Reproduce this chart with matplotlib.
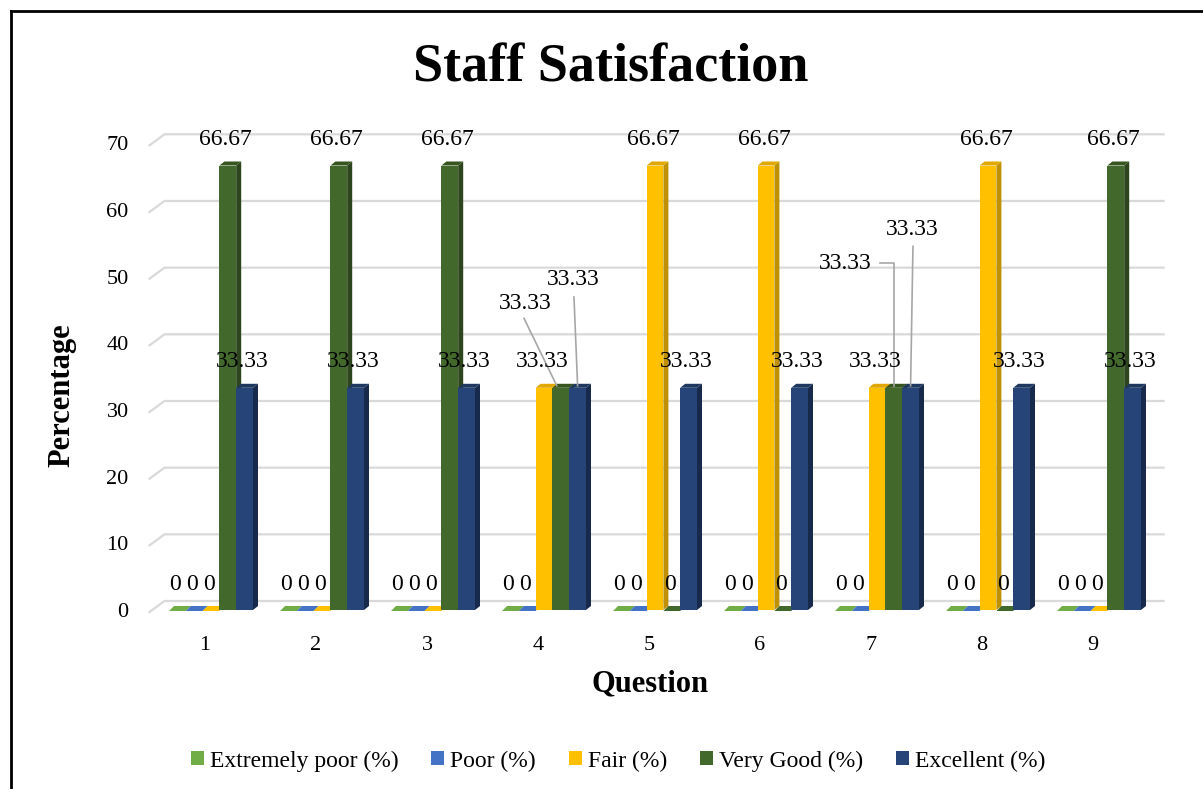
import numpy as np
import matplotlib.pyplot as plt
from matplotlib.patches import Polygon
from matplotlib.lines import Line2D
# ----------------------------------------------------------------------------------------------------------------------

questions = [1, 2, 3, 4, 5, 6, 7, 8, 9]
series_names = ["Extremely poor (%)", "Poor (%)", "Fair (%)", "Very Good (%)", "Excellent (%)"]
extremely_poor = [0, 0, 0, 0, 0, 0, 0, 0, 0]
poor = [0, 0, 0, 0, 0, 0, 0, 0, 0]
fair = [0, 0, 0, 33.33, 66.67, 66.67, 33.33, 66.67, 0]
very_good = [66.67, 66.67, 66.67, 33.33, 0, 0, 33.33, 0, 66.67]
excellent = [33.33, 33.33, 33.33, 33.33, 33.33, 33.33, 33.33, 33.33, 33.33]
y_ticks = [0, 10, 20, 30, 40, 50, 60, 70]

# front / side / top colours per series
front_cols = ["#70AD47", "#4472C4", "#FFC000", "#43682B", "#264478"]
side_cols = ["#507D33", "#2F5597", "#BF9000", "#2C451C", "#172A4B"]
top_cols = ["#5E9A3A", "#3A64AE", "#E0A800", "#37561F", "#1E3860"]

# moved labels (series index, question) -> (x, y) in data units, with leader line
moved_labels = {
    (3, 4): (3.883, 46.0),
    (4, 4): (4.315, 49.5),
    (3, 7): (6.766, 52.0),
    (4, 7): (7.369, 57.1),
}

plt.rcParams["font.family"] = ["Liberation Serif", "DejaVu Serif"]

W, H = 1203, 789
fig = plt.figure(figsize=(W / 100, H / 100), dpi=100)

# axes placement in pixels (front plane)
ax_l, ax_r, ax_b, ax_t = 149.5, 1148.5, 610, 143.3
ax = fig.add_axes([ax_l / W, 1 - ax_b / H, (ax_r - ax_l) / W, (ax_b - ax_t) / H])
ax.set_xlim(0.5, 9.5)
ax.set_ylim(0, 70)

px_x = (ax_r - ax_l) / 9.0      # pixels per category
px_y = (ax_b - ax_t) / 70.0     # pixels per unit

def dxu(p):
    return p / px_x

def dyu(p):
    return p / px_y

# Back wall gridlines
wall_dx, wall_dy = dxu(15), dyu(9)
for v in y_ticks:
    ax.plot([0.5, 0.5 + wall_dx, 9.5 + wall_dx], [v - dyu(2), v + wall_dy, v + wall_dy],
            color="#D9D9D9", lw=1.6, clip_on=False, zorder=1)

# Bars with fake 3D
bw = dxu(16.8)
grp_off = dxu(6)
bar_dx, bar_dy = dxu(5), dyu(4)
all_series = [extremely_poor, poor, fair, very_good, excellent]

label_pts = []
for qi, q in enumerate(questions):
    for si, vals in enumerate(all_series):
        h = vals[qi]
        xc = q + grp_off + (si - 2) * bw
        x0 = xc - bw / 2
        z = 2 + qi * 10 + si
        if h > 0:
            side = [(x0 + bw, 0), (x0 + bw + bar_dx, bar_dy), (x0 + bw + bar_dx, h + bar_dy), (x0 + bw, h)]
            ax.add_patch(Polygon(side, closed=True, fc=side_cols[si], ec="none", zorder=z, clip_on=False))
            top = [(x0, h), (x0 + bw, h), (x0 + bw + bar_dx, h + bar_dy), (x0 + bar_dx, h + bar_dy)]
            ax.add_patch(Polygon(top, closed=True, fc=top_cols[si], ec="none", zorder=z, clip_on=False))
            ax.add_patch(plt.Rectangle((x0, 0), bw, h, fc=front_cols[si], ec="none", zorder=z + 0.5, clip_on=False))
        else:
            flat = [(x0, -dyu(1)), (x0 + bw, -dyu(1)), (x0 + bw + bar_dx, bar_dy), (x0 + bar_dx, bar_dy)]
            ax.add_patch(Polygon(flat, closed=True, fc=front_cols[si], ec="none", zorder=z, clip_on=False))

        txt = "0" if h == 0 else "{:.2f}".format(h)
        if (si, q) in moved_labels:
            lx, ly = moved_labels[(si, q)]
            ax.text(lx, ly, txt, ha="center", va="center", fontsize=17, zorder=200)
            label_pts.append((si, q, lx, ly, xc, h))
        else:
            ax.text(xc - dxu(2), h + dyu(26), txt, ha="center", va="center", fontsize=17, zorder=200)

# Leader lines
for si, q, lx, ly, xc, h in label_pts:
    if q == 4 and si == 3:
        ax.plot([lx - dxu(1), xc - dxu(4)], [ly - dyu(15), h + dyu(2)], color="#A6A6A6", lw=1.2, zorder=150)
    elif q == 7 and si == 3:
        ax.plot([lx + dxu(35), xc, xc], [ly, ly, h + dyu(2)], color="#A6A6A6", lw=1.2, zorder=150)
    else:
        ax.plot([lx + dxu(1), xc], [ly - dyu(17), h + dyu(2)], color="#A6A6A6", lw=1.2, zorder=150)

# Axes styling
for sp in ax.spines.values():
    sp.set_visible(False)
ax.set_xticks(questions)
ax.set_xticklabels([str(q) for q in questions], fontsize=16)
ax.set_yticks(y_ticks)
ax.set_yticklabels([str(v) for v in y_ticks], fontsize=16)
ax.tick_params(axis="both", length=0)
ax.tick_params(axis="y", pad=15)
ax.tick_params(axis="x", pad=19)

# Titles
fig.text(611 / W, 1 - 68 / H, "Staff Satisfaction", ha="center", va="center", fontsize=39, fontweight="bold")
fig.text(650 / W, 1 - 684 / H, "Question", ha="center", va="center", fontsize=22, fontweight="bold")
fig.text(62 / W, 1 - 395 / H, "Percentage", ha="center", va="center", fontsize=22, fontweight="bold", rotation=90)

# Legend
handles = [plt.Rectangle((0, 0), 1, 1, fc=c, ec="none") for c in front_cols]
fig.legend(handles, series_names, loc="center", bbox_to_anchor=(618 / W, 1 - 761 / H), ncol=5, frameon=False,
           fontsize=17, handlelength=0.55, handleheight=0.55, handletextpad=0.25, columnspacing=1.4)

# Frame lines (left and top)
fig.add_artist(Line2D([10.5 / W, 10.5 / W], [0, 1 - 11 / H], color="black", lw=2, transform=fig.transFigure))
fig.add_artist(Line2D([10.5 / W, 1], [1 - 11 / H, 1 - 11 / H], color="black", lw=2, transform=fig.transFigure))

fig.savefig("out.png", dpi=100)
